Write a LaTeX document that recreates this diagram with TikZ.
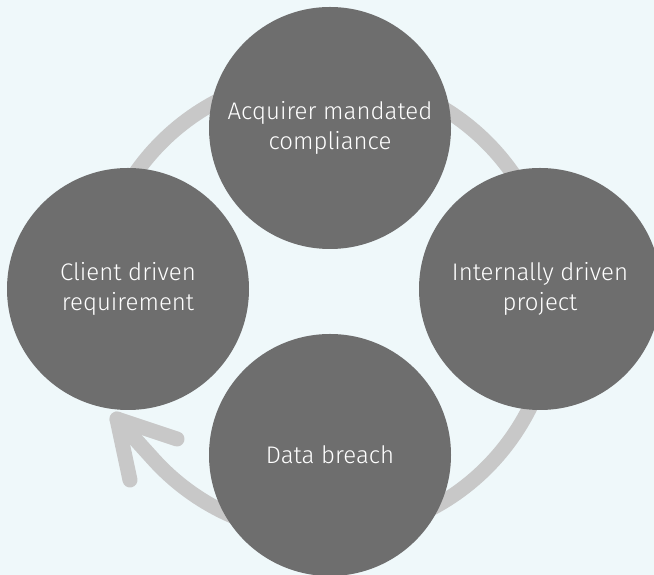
\documentclass[tikz,border=0pt]{standalone}
\usepackage{fontspec}
\setmainfont{Fira Sans}[UprightFont=* Light]
\usepackage{tikz}
\usetikzlibrary{calc}
\definecolor{paleblue}{HTML}{EFF8FA}
\definecolor{discgray}{HTML}{6E6E6E}
\definecolor{ringgray}{HTML}{C8C8C8}

\begin{document}
\begin{tikzpicture}[x=1pt, y=1pt,
 disc/.style={circle, fill=discgray, minimum size=242pt, inner sep=0pt,
 text=white, align=center, font=\fontsize{24}{30}\selectfont},
 ring/.style={draw=ringgray, line width=15pt, line cap=round}]
 \fill[paleblue] (0,0) rectangle (654,575);
 \useasboundingbox (0,0) rectangle (654,575);
 \clip (0,0) rectangle (654,575);
 \coordinate (hub) at (324,270);
 \coordinate (tip) at (117,156);
 \coordinate (barbup) at (177,136);
 \coordinate (barbdown) at (130,95);
 % cycle ring, ending in an open head on the lower left
 \draw[ring] ($(hub)+(195:230)$) arc[start angle=555, end angle=222, radius=230] -- (tip);
 \draw[ring, line join=round] (barbup) -- (tip) -- (barbdown);
 \node[disc] (acquirer) at (330,447) {Acquirer mandated\\compliance};
 \node[disc] (client) at (128,286) {Client driven\\requirement};
 \node[disc] (internal) at (540,286) {Internally driven\\project};
 \node[disc] (breach) at (330,120) {Data breach};
\end{tikzpicture}
\end{document}
